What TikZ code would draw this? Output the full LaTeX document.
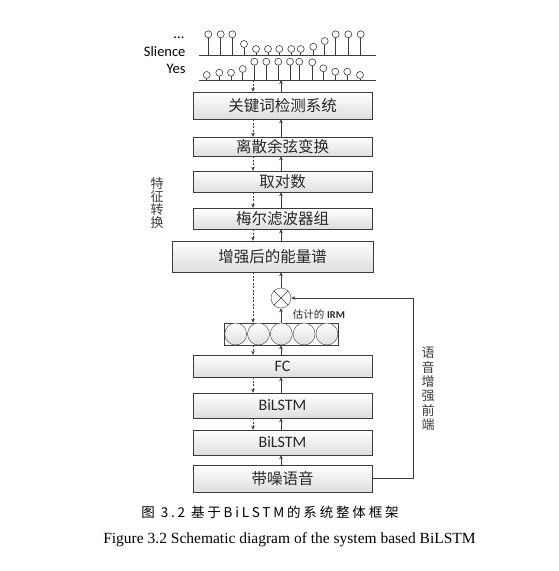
\documentclass[tikz,border=0pt]{standalone}
\usepackage{fontspec}
\setmainfont{Liberation Serif}
\newfontfamily\cjk{Noto Sans CJK SC}
\newfontfamily\cjkcap[LetterSpace=21]{Noto Sans CJK SC}
\newfontfamily\calibri{Carlito}
\usetikzlibrary{arrows.meta}
\definecolor{linegray}{RGB}{60,60,60}
\definecolor{textgray}{RGB}{40,40,40}
\definecolor{boxgray}{RGB}{222,222,222}
\tikzstyle{block}=[draw=linegray, top color=white, bottom color=boxgray, minimum width=179pt, inner sep=0pt, text=textgray, font=\cjk\fontsize{15.5}{15.5}\selectfont]
\tikzstyle{latinblock}=[block, font=\calibri\fontsize{16}{16}\selectfont]
\tikzstyle{unit}=[circle, draw=linegray, top color=white, bottom color=boxgray, minimum size=22pt, inner sep=0pt]
\tikzstyle{down}=[linegray, dash pattern=on 2pt off 1.5pt, -{Stealth[length=4pt,width=3.5pt]}]
\tikzstyle{up}=[linegray, -{Stealth[length=4pt,width=3.5pt]}]
\tikzstyle{stem}=[linegray, line width=0.6pt]
\tikzstyle{bead}=[draw=linegray, fill=white, line width=0.6pt]

\begin{document}
\begin{tikzpicture}[x=1pt, y=-1pt]
        \useasboundingbox (0,0) rectangle (559,571);

        % output of the keyword spotter
        \draw [linegray] (199,55) -- (376,55);
        \draw [linegray] (199,80) -- (376,80);
        \foreach \x/\y in {208.3/34.3, 220.7/34.3, 232.3/34.3, 244/44, 256/49, 268/49, 279.3/49,
                291.3/49, 300.7/49, 313.3/46.7, 324.7/41, 335.7/34.3, 348.3/34.3, 360.7/34.3} {
            \draw [style = stem] (\x,55) -- (\x,\y+3.5);
            \draw [style = bead] (\x,\y) circle [radius=3.5pt];
        }
        \foreach \x/\y in {206.7/75, 219.3/72.7, 231/72.7, 242.7/69, 254.3/61.7, 266.3/61.7, 278.3/61.7,
                290/61.7, 299.3/61.7, 312.3/62.3, 323.3/68.3, 335.3/71.7, 347.3/71.7, 360/75} {
            \draw [style = stem] (\x,80) -- (\x,\y+3.5);
            \draw [style = bead] (\x,\y) circle [radius=3.5pt];
        }
        \node [font=\calibri\fontsize{14.5}{14.5}\selectfont, anchor=base east] (dots) at (188,38) {...};
        \node [font=\calibri\fontsize{14.5}{14.5}\selectfont, anchor=base east] (sil) at (189,56.5) {Slience};
        \node [font=\calibri\fontsize{14.5}{14.5}\selectfont, anchor=base east] (yes) at (189,73) {Yes};
        \coordinate (axis) at (282,80);

        % feature chain
        \node [style = block, minimum height=27pt] (kws) at (282.5,105.5) {关键词检测系统};
        \node [style = block, minimum height=19pt] (dct) at (282.5,146.5) {离散余弦变换};
        \node [style = block, minimum height=21pt] (log) at (282.5,181.5) {取对数};
        \node [style = block, minimum height=21pt] (mel) at (282.5,218.5) {梅尔滤波器组};
        \node [style = block, minimum width=201pt, minimum height=31pt] (spec) at (272.5,256.5) {增强后的能量谱};

        % enhancement front end
        \node [circle, draw=linegray, fill=white, minimum size=20pt, inner sep=0pt] (mult) at (281,298) {};
        \draw [linegray] (mult.north west) -- (mult.south east);
        \draw [linegray] (mult.north east) -- (mult.south west);
        \node [draw=linegray, fill=white, minimum width=114pt, minimum height=22.3pt, inner sep=0pt] (mask) at (281.3,334) {};
        \foreach \i in {0,...,4}
            \node [style = unit] (m\i) at (235.7+22.8*\i,334) {};
        \node [font=\fontsize{10.5}{10.5}\selectfont, text=textgray] (irm) at (319,314) {{\cjk 估计的} {\calibri\bfseries IRM}};

        \node [style = latinblock, minimum height=22pt] (fc) at (282.5,366) {FC};
        \node [style = latinblock, minimum height=25pt] (lstma) at (282.5,405.5) {BiLSTM};
        \node [style = latinblock, minimum height=25pt] (lstmb) at (282.5,442.5) {BiLSTM};
        \node [style = block, minimum height=27pt] (noisy) at (282.5,478.5) {带噪语音};

        \node [font=\cjk\fontsize{13}{13}\selectfont, align=center, text=linegray] (feat) at (157,203.5) {特\\征\\转\\换};
        \node [font=\cjk\fontsize{13}{14.4}\selectfont, align=center, text=linegray] (front) at (428,389) {语\\音\\增\\强\\前\\端};

        % connectors
        \coordinate (dn) at (253,0);
        \coordinate (up) at (281,0);
        \coordinate (fb) at (413,0);
        \draw [style = down] (axis -| dn) -- (kws.north -| dn);
        \draw [style = up] (kws.north -| up) -- (axis -| up);
        \foreach \a/\b in {kws/dct, dct/log, log/mel, mel/spec, mask/fc, fc/lstma, lstma/lstmb} {
            \draw [style = down] (\a.south -| dn) -- (\b.north -| dn);
            \draw [style = up] (\b.north -| up) -- (\a.south -| up);
        }
        \draw [style = down] (spec.south -| dn) -- (mask.north -| dn);
        \draw [style = up] (mask.north -| mult) -- (mult.south);
        \draw [style = up] (mult.north) -- (spec.south -| mult);
        \draw [style = up] (noisy.north -| up) -- (lstmb.south -| up);
        \draw [style = up] (noisy.east) -- (noisy.east -| fb) -- (mult.east -| fb) -- (mult.east);

        % captions
        \node [font=\cjkcap\fontsize{13.5}{13.5}\selectfont] (cap1) at (270,512) {图 3.2 基于BiLSTM的系统整体框架};
        \node [font=\fontsize{15.5}{15.5}\selectfont] (cap2) at (289.5,540) {Figure 3.2 Schematic diagram of the system based BiLSTM};
\end{tikzpicture}
\end{document}
